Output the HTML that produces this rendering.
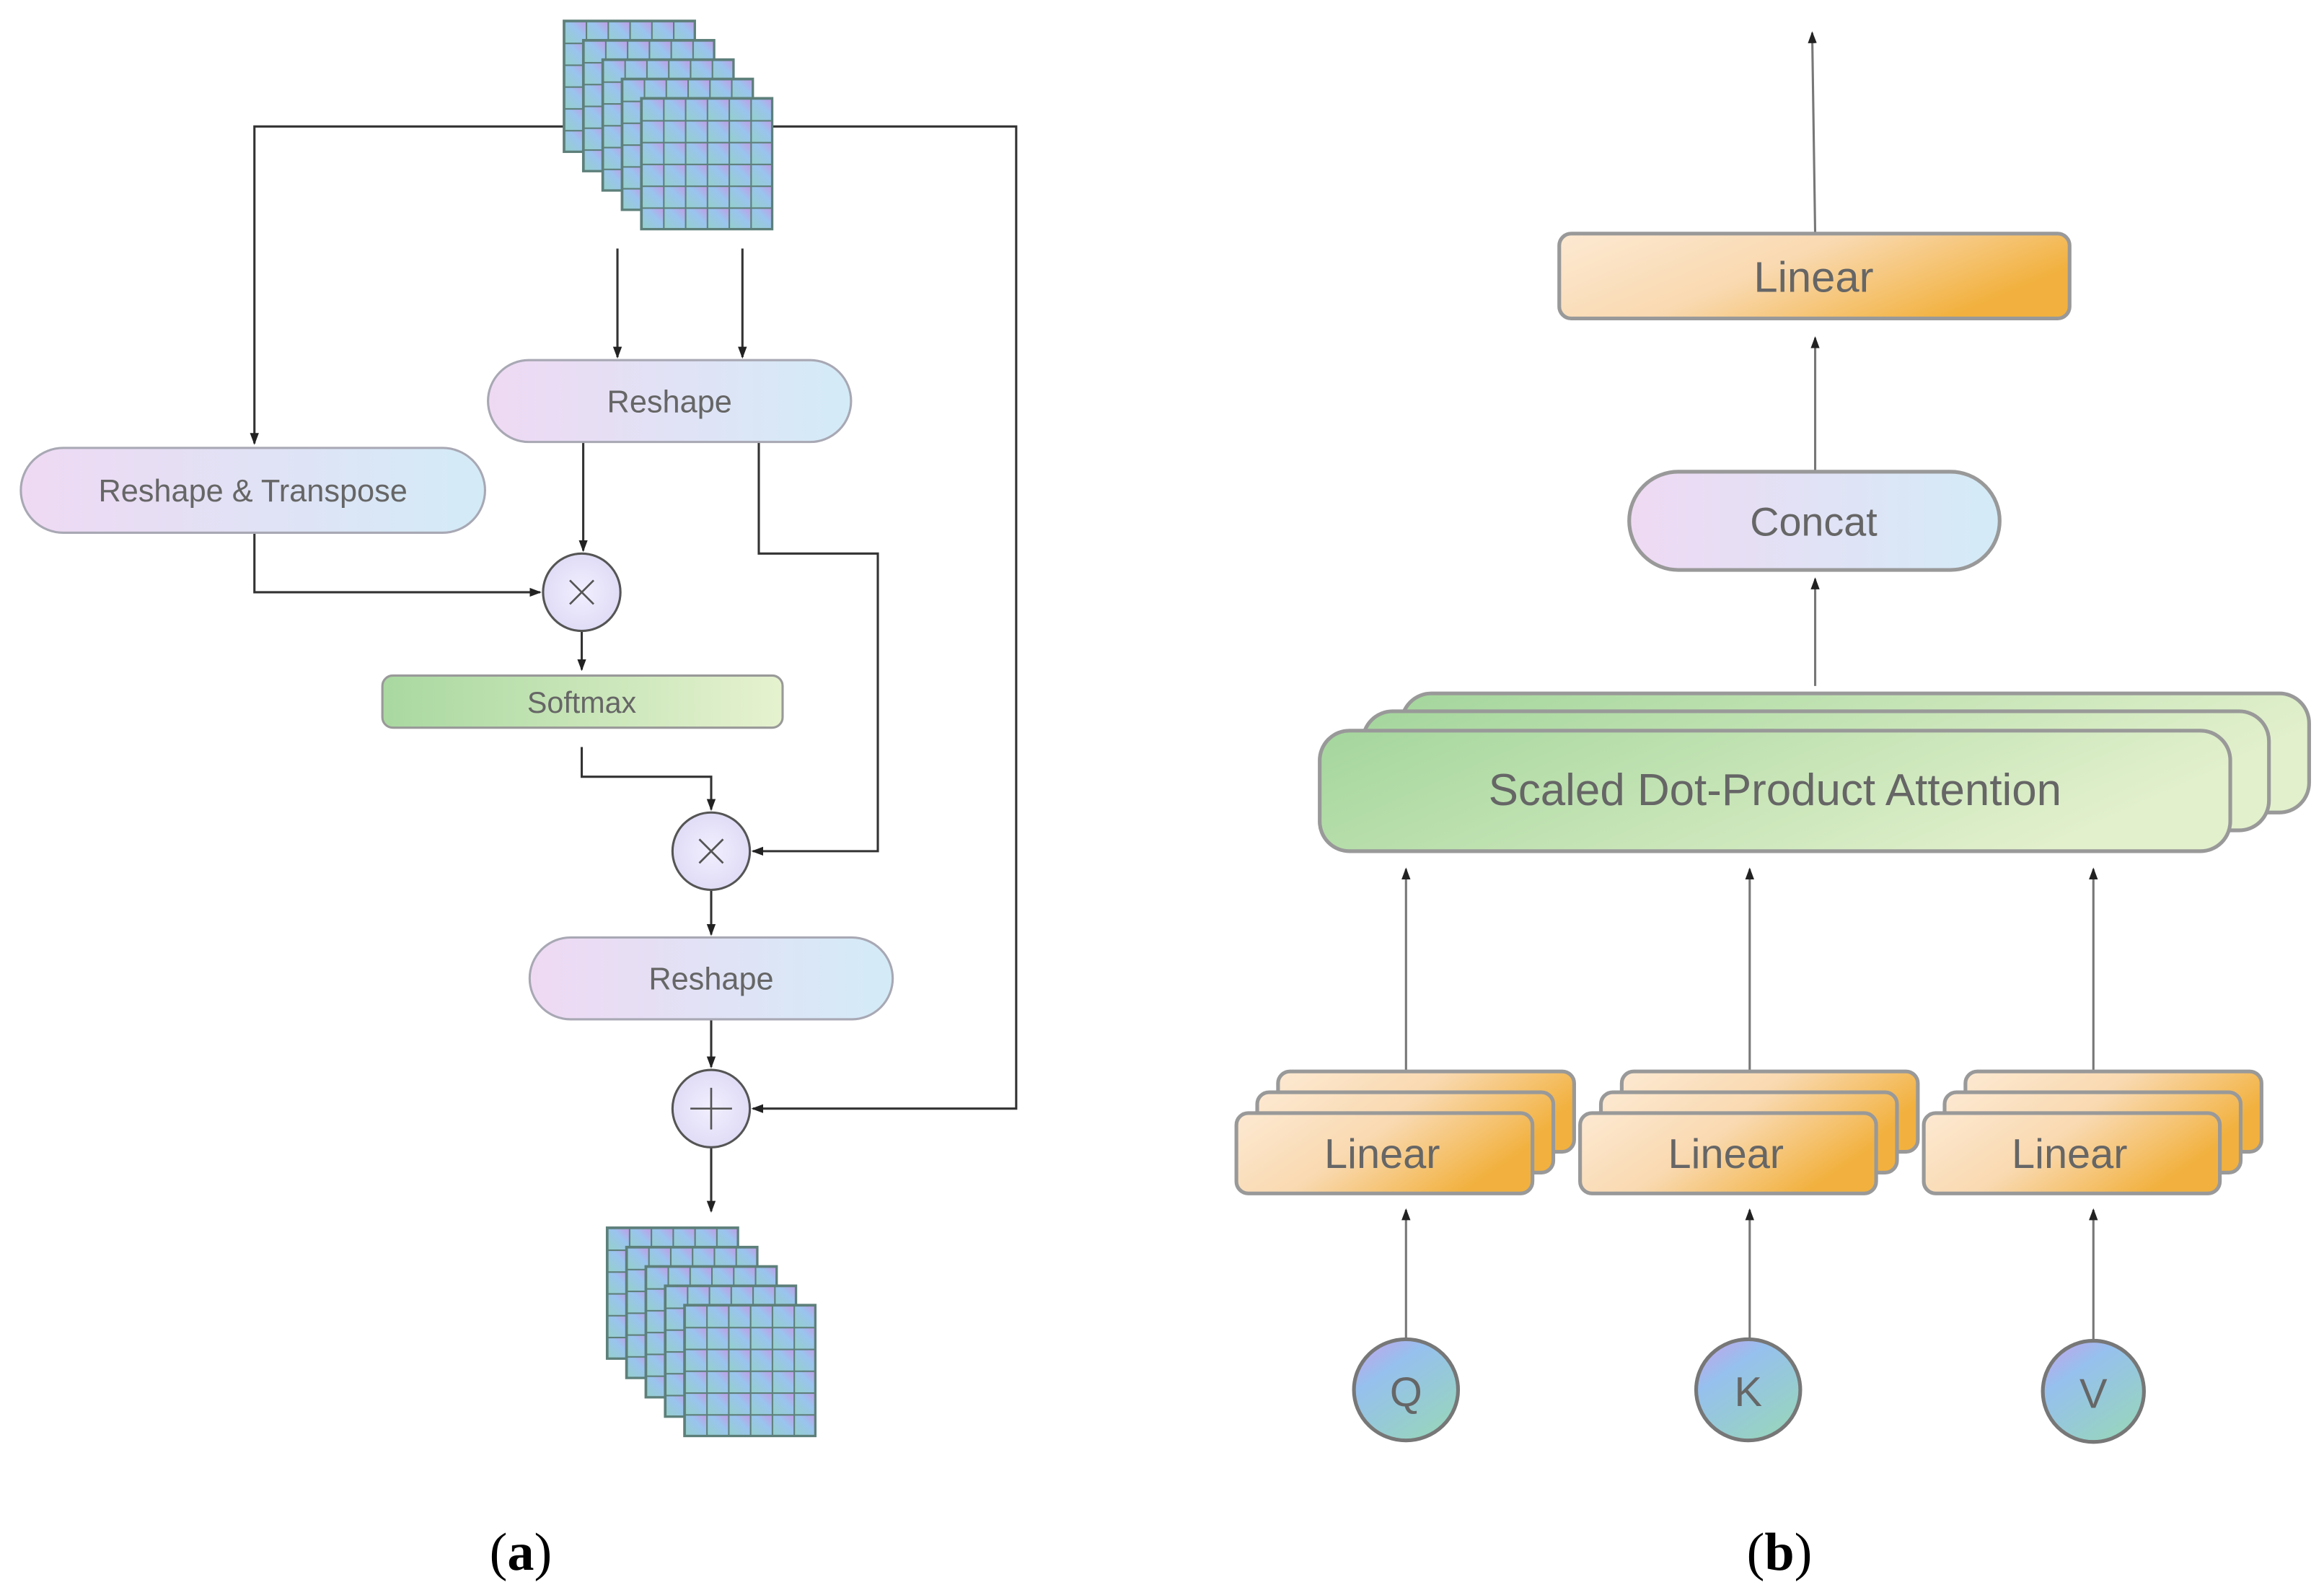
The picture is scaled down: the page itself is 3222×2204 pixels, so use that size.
<!DOCTYPE html>
<html><head><meta charset="utf-8"><style>html,body{margin:0;padding:0;background:#fff}svg{display:block}</style></head><body>
<svg width="3222" height="2204" viewBox="0 0 1562 1068.5" preserveAspectRatio="none" xmlns="http://www.w3.org/2000/svg" font-family="Liberation Sans, sans-serif">
<defs>
<linearGradient id="pill" x1="0" y1="0" x2="1" y2="0"><stop offset="0" stop-color="#efd9f3"/><stop offset="1" stop-color="#d3ebf7"/></linearGradient>
<linearGradient id="soft" x1="0" y1="0" x2="1" y2="0"><stop offset="0" stop-color="#a9d8a0"/><stop offset="1" stop-color="#e6f2cf"/></linearGradient>
<linearGradient id="sdpa" x1="0" y1="0" x2="1" y2="0.3"><stop offset="0" stop-color="#a4d69c"/><stop offset="1" stop-color="#e2f0cc"/></linearGradient>
<linearGradient id="lin" x1="0" y1="0" x2="1" y2="0.4"><stop offset="0" stop-color="#fde9d2"/><stop offset="0.5" stop-color="#f9d9b0"/><stop offset="1" stop-color="#f2b13e"/></linearGradient>
<linearGradient id="cell" x1="0" y1="1" x2="1" y2="0"><stop offset="0" stop-color="#94d0c8"/><stop offset="0.6" stop-color="#9ac4ee"/><stop offset="1" stop-color="#c49ae6"/></linearGradient>
<linearGradient id="qkv" x1="0" y1="0" x2="0.7" y2="1"><stop offset="0" stop-color="#c9a0ea"/><stop offset="0.35" stop-color="#96c0ee"/><stop offset="1" stop-color="#97d4bf"/></linearGradient>
<radialGradient id="circ" cx="0.5" cy="0.5" r="0.6"><stop offset="0" stop-color="#f2efff"/><stop offset="1" stop-color="#dcd8f4"/></radialGradient>
<marker id="ar" markerWidth="8" markerHeight="8" refX="7" refY="4" orient="auto" markerUnits="userSpaceOnUse"><path d="M0,1 L8,4 L0,7 Z" fill="#222"/></marker>
<pattern id="grid" x="0" y="0" width="0.16667" height="0.16667" patternUnits="objectBoundingBox" patternContentUnits="userSpaceOnUse"><rect width="14.67" height="14.67" fill="url(#cell)"/><path d="M0,0 H14.67 M0,0 V14.67" stroke="#5d7f7a" stroke-width="2"/></pattern>
</defs>

<g stroke="#333" stroke-width="1.5" fill="none">
<path d="M380,85 H171 V298" marker-end="url(#ar)"/>
<path d="M519,85 H683 V745 H506" marker-end="url(#ar)"/>
<path d="M415,167 V240" marker-end="url(#ar)"/>
<path d="M499,167 V240" marker-end="url(#ar)"/>
<path d="M392,297 V370" marker-end="url(#ar)"/>
<path d="M171,358 V398 H363" marker-end="url(#ar)"/>
<path d="M510,297 V372 H590 V572 H506" marker-end="url(#ar)"/>
<path d="M391,424 V450" marker-end="url(#ar)"/>
<path d="M391,502 V522 H478 V544" marker-end="url(#ar)"/>
<path d="M478,598 V628" marker-end="url(#ar)"/>
<path d="M478,685 V717" marker-end="url(#ar)"/>
<path d="M478,771 V814" marker-end="url(#ar)"/>
</g>

<g stroke="#5d7f7a" stroke-width="1.6">
<rect x="379" y="14" width="88" height="88" fill="url(#grid)"/>
<rect x="392" y="27" width="88" height="88" fill="url(#grid)"/>
<rect x="405" y="40" width="88" height="88" fill="url(#grid)"/>
<rect x="418" y="53" width="88" height="88" fill="url(#grid)"/>
<rect x="431" y="66" width="88" height="88" fill="url(#grid)"/>
</g>
<g stroke="#5d7f7a" stroke-width="1.6">
<rect x="408" y="825" width="88" height="88" fill="url(#grid)"/>
<rect x="421" y="838" width="88" height="88" fill="url(#grid)"/>
<rect x="434" y="851" width="88" height="88" fill="url(#grid)"/>
<rect x="447" y="864" width="88" height="88" fill="url(#grid)"/>
<rect x="460" y="877" width="88" height="88" fill="url(#grid)"/>
</g>

<g stroke="#a8a8b4" stroke-width="1.5">
<rect x="328" y="242" width="244" height="55" rx="27.5" fill="url(#pill)"/>
<rect x="14" y="301" width="312" height="57" rx="28.5" fill="url(#pill)"/>
<rect x="356" y="630" width="244" height="55" rx="27.5" fill="url(#pill)"/>
<rect x="257" y="454" width="269" height="35" rx="7" fill="url(#soft)" stroke="#999"/>
</g>
<g fill="#666" font-size="21" text-anchor="middle">
<text x="450" y="277">Reshape</text>
<text x="170" y="337">Reshape &amp; Transpose</text>
<text x="478" y="665">Reshape</text>
<text x="391" y="479" font-size="20">Softmax</text>
</g>
<g stroke="#555" stroke-width="1.5" fill="url(#circ)">
<circle cx="391" cy="398" r="26"/>
<circle cx="478" cy="572" r="26"/>
<circle cx="478" cy="745" r="26"/>
</g>
<g stroke="#555" stroke-width="1.3">
<path d="M383,390 L399,406 M399,390 L383,406"/>
<path d="M470,564 L486,580 M486,564 L470,580"/>
<path d="M478,731 V759 M464,745 H492"/>
</g>

<text x="350" y="1055" font-family="Liberation Serif, serif" font-size="36" text-anchor="middle" fill="#000">(<tspan font-weight="bold">a</tspan>)</text>
<text x="1196" y="1055" font-family="Liberation Serif, serif" font-size="36" text-anchor="middle" fill="#000">(<tspan font-weight="bold">b</tspan>)</text>

<g stroke="#777" stroke-width="1.5" fill="none">
<path d="M1220,157 L1218,22" marker-end="url(#ar)"/>
<path d="M1220,317 V227" marker-end="url(#ar)"/>
<path d="M1220,461 V389" marker-end="url(#ar)"/>
<path d="M945,720 V584" marker-end="url(#ar)"/>
<path d="M1176,720 V584" marker-end="url(#ar)"/>
<path d="M1407,720 V584" marker-end="url(#ar)"/>
<path d="M945,900 V813" marker-end="url(#ar)"/>
<path d="M1176,900 V813" marker-end="url(#ar)"/>
<path d="M1407,900 V813" marker-end="url(#ar)"/>
</g>
<g stroke="#999" stroke-width="2.5">
<rect x="1048" y="157" width="343" height="57" rx="8" fill="url(#lin)"/>
<rect x="1095" y="317" width="249" height="66" rx="33" fill="url(#pill)"/>
<rect x="942" y="466" width="610" height="80" rx="20" fill="url(#sdpa)"/>
<rect x="916" y="478" width="609" height="80" rx="20" fill="url(#sdpa)"/>
<rect x="887" y="491" width="612" height="81" rx="20" fill="url(#sdpa)"/>
<g fill="url(#lin)">
<rect x="859" y="720" width="199" height="54" rx="8"/><rect x="845" y="734" width="199" height="54" rx="8"/><rect x="831" y="748" width="199" height="54" rx="8"/>
<rect x="1090" y="720" width="199" height="54" rx="8"/><rect x="1076" y="734" width="199" height="54" rx="8"/><rect x="1062" y="748" width="199" height="54" rx="8"/>
<rect x="1321" y="720" width="199" height="54" rx="8"/><rect x="1307" y="734" width="199" height="54" rx="8"/><rect x="1293" y="748" width="199" height="54" rx="8"/>
</g>
<ellipse cx="945" cy="934" rx="35" ry="34" fill="url(#qkv)" stroke="#777"/>
<ellipse cx="1175" cy="934" rx="35" ry="34" fill="url(#qkv)" stroke="#777"/>
<ellipse cx="1407" cy="935" rx="34" ry="34" fill="url(#qkv)" stroke="#777"/>
</g>
<g fill="#666" text-anchor="middle">
<text x="1219" y="196" font-size="29">Linear</text>
<text x="1219" y="360" font-size="27">Concat</text>
<text x="1193" y="541" font-size="30">Scaled Dot-Product Attention</text>
<text x="929" y="785" font-size="28">Linear</text>
<text x="1160" y="785" font-size="28">Linear</text>
<text x="1391" y="785" font-size="28">Linear</text>
<text x="945" y="945" font-size="28">Q</text>
<text x="1175" y="945" font-size="28">K</text>
<text x="1407" y="946" font-size="28">V</text>
</g>
</svg>
</body></html>
